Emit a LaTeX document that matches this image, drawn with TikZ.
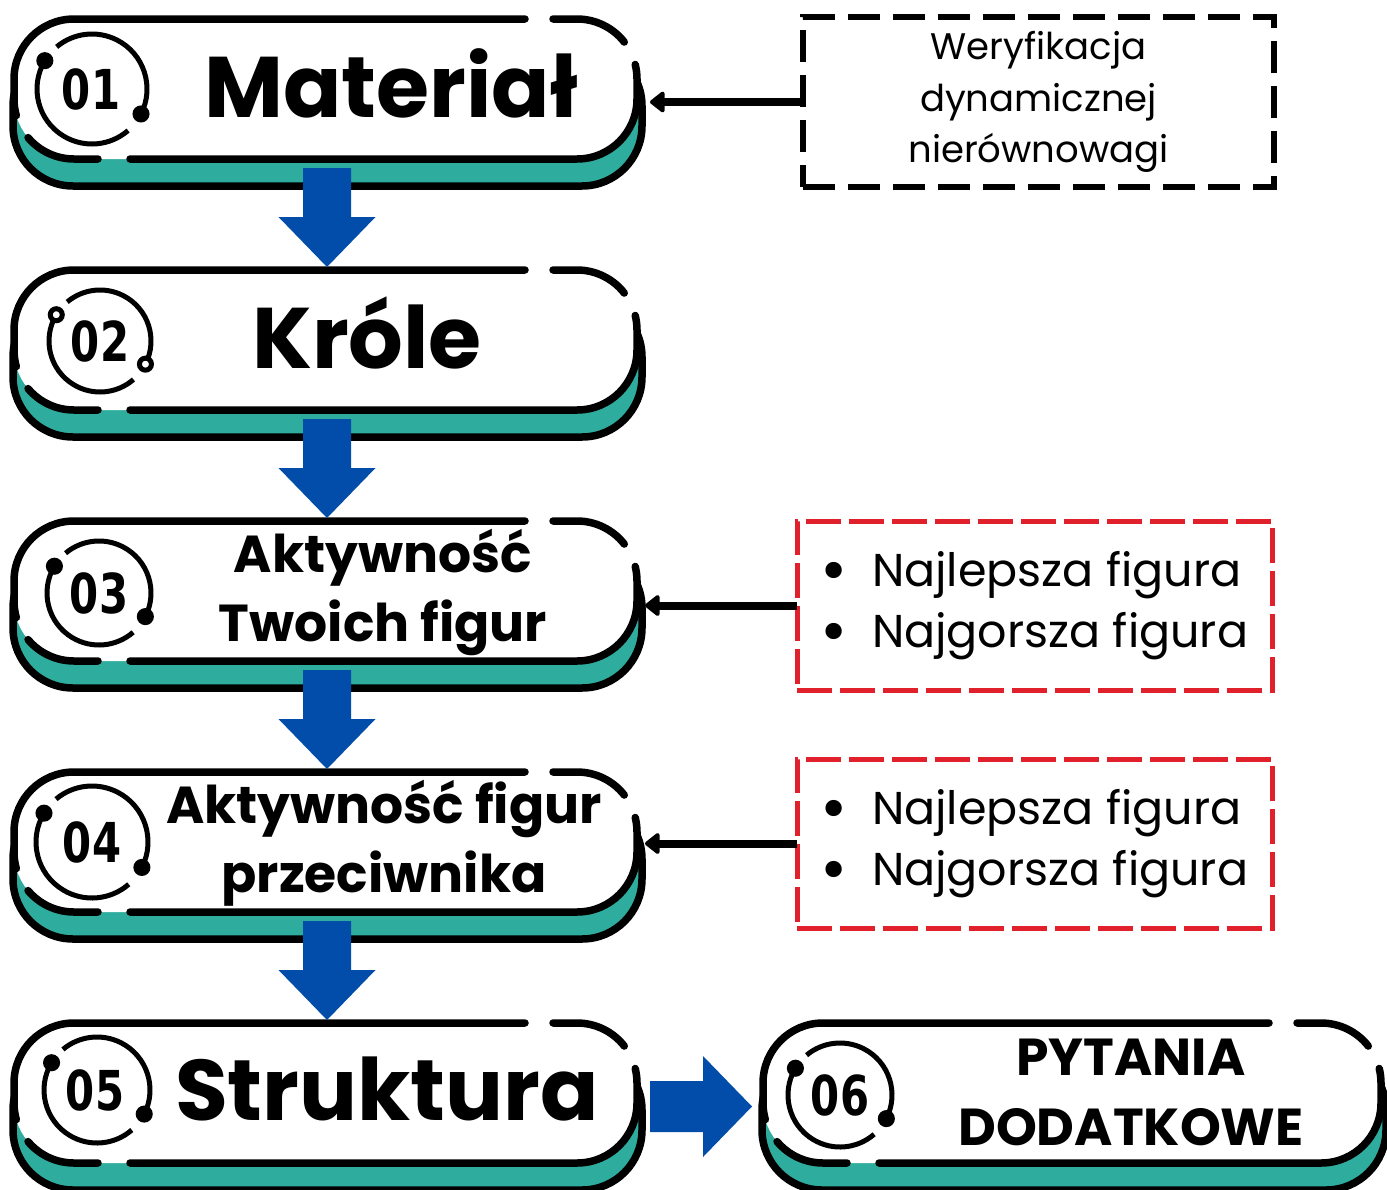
\documentclass[tikz,border=0pt]{standalone}
\usepackage{fontspec}
\setmainfont{Poppins}
\newfontfamily\numfont[FakeStretch=0.76]{DejaVu Sans}
\usetikzlibrary{calc,positioning,arrows.meta}
\definecolor{pillteal}{HTML}{2EAD9E}
\definecolor{blockblue}{HTML}{034DAA}
\definecolor{boxred}{HTML}{E0202A}
% broken outline of a front pill, #1 = node, #2 = its width
\def\pilledge#1#2{%
	\begin{scope}[shift={(#1.north west)}]
		\draw[pilloutline] ([shift={(220:60)}]60,-80) arc (220:270:60) -- (84,-140);
		\draw[pilloutline] (116,-140) -- (#2-60,-140) arc (270:360:60) -- (#2,-60) arc (0:14:60);
		\draw[pilloutline] ([shift={(38:60)}]#2-60,-60) arc (38:90:60) -- (#2-84,0);
		\draw[pilloutline] (#2-112,0) -- (60,0) arc (90:180:60) -- (0,-80) arc (180:196:60);
	\end{scope}}
% ring round a number, (#1) = centre, #2 = radius, #3 = dot fill
\def\ringicon(#1)#2#3{%
	\draw[ringline] ([shift={(149:#2)}]#1) arc (149:311:#2);
	\draw[ringline] ([shift={(333:#2)}]#1) arc (333:490:#2);
	\filldraw[ringline, fill=#3] ([shift={(149:#2)}]#1) circle (6);
	\filldraw[ringline, fill=#3] ([shift={(333:#2)}]#1) circle (6);}
\def\blockdown(#1)(#2){\fill[blockblue] ($(#1)+(-24,0)$) -- ($(#1)+(24,0)$) -- ($(#1|-#2)+(24,50)$) -- ($(#1|-#2)+(48.5,50)$) -- (#1|-#2) -- ($(#1|-#2)+(-48.5,50)$) -- ($(#1|-#2)+(-24,50)$) -- cycle;}
\def\blockright(#1)(#2){\fill[blockblue] ($(#1)+(0,25.5)$) -- ($(#2)+(-49,25.5)$) -- ($(#2)+(-49,50.5)$) -- (#2) -- ($(#2)+(-49,-50.5)$) -- ($(#2)+(-49,-25.5)$) -- ($(#1)+(0,-25.5)$) -- cycle;}
\def\bigdot{\raisebox{-6pt}{\fontsize{66}{60}\selectfont\textbullet}}

\begin{document}
\begin{tikzpicture}[x=1pt, y=1pt,
		frontpill/.style={rectangle, rounded corners=60pt, fill=white, outer sep=0pt, inner sep=0pt, minimum height=140pt},
		backpill/.style={rectangle, rounded corners=60pt, draw=black, line width=7.5pt, fill=pillteal, outer sep=0pt, inner sep=0pt, minimum height=140pt},
		pilloutline/.style={line width=7.5pt, line cap=round},
		ringline/.style={line width=5pt, draw=black},
		digits/.style={font=\numfont\bfseries\fontsize{55}{55}\selectfont, inner sep=0pt},
		biglabel/.style={font=\bfseries\fontsize{86}{86}\selectfont, anchor=base, inner sep=0pt},
		midlabel/.style={font=\bfseries\fontsize{52}{69}\selectfont, align=center, inner sep=0pt},
		caplabel/.style={font=\bfseries\fontsize{52}{70}\selectfont, align=center, inner sep=0pt},
		notebox/.style={draw=black, line width=5.5pt, dash pattern=on 32pt off 13pt, align=center, font=\fontsize{37}{51.5}\selectfont, outer sep=0pt},
		redbox/.style={draw=boxred, line width=5pt, dash pattern=on 35pt off 8pt, align=left, font=\fontsize{46}{61}\selectfont, outer sep=0pt, minimum width=475pt, minimum height=169pt},
		pointer/.style={line width=8pt, -{Triangle[length=16pt, width=24pt, round]}}]
	
	\fill[white] (0,0) rectangle (1387,-1189);
	\useasboundingbox (0,0) rectangle (1387,-1189);
	
	% shadows
	\node[backpill, minimum width=629] (p1s) at (327.5,-116) {};
	\node[backpill, minimum width=629] (p2s) at (327.5,-367) {};
	\node[backpill, minimum width=629] (p3s) at (327.5,-618) {};
	\node[backpill, minimum width=629] (p4s) at (327.5,-869) {};
	\node[backpill, minimum width=629] (p5s) at (327.5,-1120) {};
	\node[backpill, minimum width=624] (p6s) at (1074,-1120) {};
	
	% front pills
	\node[frontpill, minimum width=623] (p1) at (325.5,-89) {};
	\node[frontpill, minimum width=623] (p2) at (325.5,-340) {};
	\node[frontpill, minimum width=623] (p3) at (325.5,-591) {};
	\node[frontpill, minimum width=623] (p4) at (325.5,-842) {};
	\node[frontpill, minimum width=623] (p5) at (325.5,-1093) {};
	\node[frontpill, minimum width=618] (p6) at (1072,-1093) {};
	
	\pilledge{p1}{623}
	\pilledge{p2}{623}
	\pilledge{p3}{623}
	\pilledge{p4}{623}
	\pilledge{p5}{623}
	\pilledge{p6}{618}
	
	% numbers
	\ringicon(92,-89){55}{black}
	\ringicon(100,-341){51}{white}
	\ringicon(99,-593){52}{black}
	\ringicon(92,-842){56}{black}
	\ringicon(97,-1090){53}{black}
	\ringicon(840,-1095){52}{black}
	
	\node[digits] (n1) at (91,-89) {01};
	\node[digits] (n2) at (100,-341) {02};
	\node[digits] (n3) at (99,-593) {03};
	\node[digits] (n4) at (92,-842) {04};
	\node[digits] (n5) at (95,-1090) {05};
	\node[digits] (n6) at (840,-1095) {06};
	
	% labels
	\node[biglabel] (t1) at (391,-117) {Materiał};
	\node[biglabel] (t2) at (367,-368) {Króle};
	\node[midlabel] (t3) at (383,-592) {Aktywność\\Twoich figur};
	\node[midlabel] (t4) at (384,-843) {Aktywność figur\\przeciwnika};
	\node[biglabel] (t5) at (387,-1120) {Struktura};
	\node[caplabel] (t6) at (1131,-1092) {PYTANIA\\DODATKOWE};
	
	% side boxes
	\node[notebox, minimum width=471, minimum height=170] (b1) at (1038.5,-102) {Weryfikacja\\dynamicznej\\nierównowagi};
	\node[redbox] (b3) at (1034.5,-605.5) {\bigdot\hspace{24pt}Najlepsza figura\\\bigdot\hspace{24pt}Najgorsza figura};
	\node[redbox] (b4) at (1034.5,-843.5) {\bigdot\hspace{24pt}Najlepsza figura\\\bigdot\hspace{24pt}Najgorsza figura};
	
	\draw[pointer] (b1.west) -- ($(b1.west -| p1s.east)+(8,0)$);
	\draw[pointer] (b3.west) -- ($(b3.west -| p3s.east)+(3,0)$);
	\draw[pointer] (b4.west) -- ($(b4.west -| p4s.east)+(3,0)$);
	
	% blue arrows
	\coordinate (d1) at ($(p1.south)+(1.5,-9)$);
	\coordinate (e1) at ($(p2.north)+(1.5,3)$);
	\coordinate (d2) at ($(p2.south)+(1.5,-9)$);
	\coordinate (e2) at ($(p3.north)+(1.5,3)$);
	\coordinate (d3) at ($(p3.south)+(1.5,-9)$);
	\coordinate (e3) at ($(p4.north)+(1.5,3)$);
	\coordinate (d4) at ($(p4.south)+(1.5,-9)$);
	\coordinate (e4) at ($(p5.north)+(1.5,3)$);
	\blockdown(d1)(e1)
	\blockdown(d2)(e2)
	\blockdown(d3)(e3)
	\blockdown(d4)(e4)
	
	\coordinate (h1) at ($(p5.east)!0.5!(p5s.east)+(10.5,0)$);
	\coordinate (h2) at ($(h1 -| p6s.west)+(-10,0)$);
	\blockright(h1)(h2)
	
\end{tikzpicture}
\end{document}
